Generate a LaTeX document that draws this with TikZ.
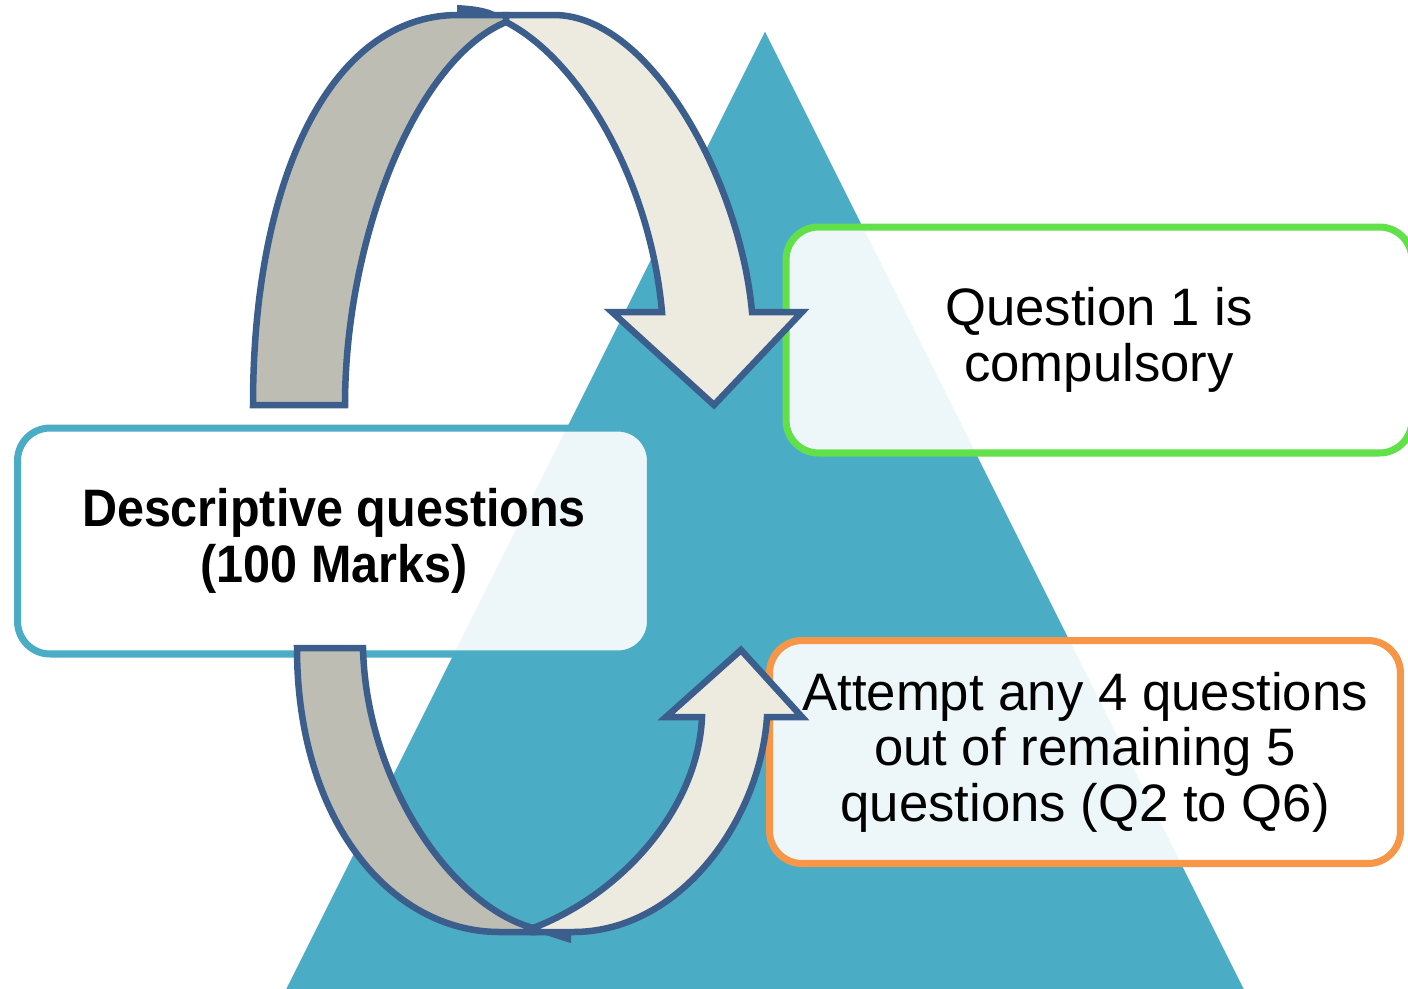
\documentclass[tikz,border=0pt]{standalone}
\usepackage{fontspec}
\setmainfont{Liberation Sans}
\newfontfamily\headfont{Liberation Sans}[FakeStretch=0.92]

\definecolor{pyramid}{RGB}{75,172,198}
\definecolor{ribbonline}{RGB}{59,94,140}
\definecolor{ribbonback}{RGB}{190,189,180}
\definecolor{ribbonfront}{RGB}{237,235,224}
\definecolor{greenline}{RGB}{98,224,74}
\definecolor{orangeline}{RGB}{247,150,70}

\begin{document}
\begin{tikzpicture}[x=0.02cm, y=-0.02cm,
    box/.style={draw, line width=4pt, rounded corners=0.65cm, fill=white,
                fill opacity=0.9, text opacity=1, align=center,
                font=\fontsize{30}{31.6}\selectfont},
    ribbon/.style={draw=ribbonline, line width=3.7pt, line join=miter}]
    \useasboundingbox (0,0) rectangle (1408,988);
    \clip (0,0) rectangle (1408,988);
    \fill[white] (0,0) rectangle (1408,988);
    \filldraw[fill=pyramid, draw=white, line width=1.7pt]
        (765,28) -- (259,1040) -- (1271,1040) -- cycle;

    \node[box, draw=pyramid, minimum width=12.66cm, minimum height=4.52cm,
          font=\fontsize{30}{31.6}\headfont\bfseries]
        (desc) at (334,541) {Descriptive questions\\(100 Marks)};
    \node[box, draw=greenline, minimum width=12.52cm, minimum height=4.52cm]
        (first) at (1099,340) {Question 1 is\\compulsory};
    \node[box, draw=orangeline, minimum width=12.62cm, minimum height=4.46cm]
        (rest) at (1085,752) {Attempt any 4 questions\\out of remaining 5\\questions (Q2 to Q6)};

    \filldraw[ribbon, fill=ribbonback] (253,405) .. controls (253,180) and (330,15) ..
        (458,15) -- (506,15) -- (506,22) .. controls (415,60) and (345,240) ..
        (345,405) -- cycle;
    \filldraw[ribbon, fill=ribbonfront] (506,22) -- (506,15) -- (554,15)
        .. controls (650,15) and (740,180) .. (752,312) -- (802,312) -- (714,405)
        -- (612,312) -- (662,312) .. controls (650,180) and (580,60) .. (506,22) -- cycle;
    \fill[ribbonline] (457,5) .. controls (480,6) and (495,10) .. (500,16) -- (457,16) -- cycle;

    \filldraw[ribbon, fill=ribbonback] (297,648) .. controls (297,820) and (390,932) ..
        (500,932) -- (533,932) -- (533,928) .. controls (450,905) and (366,780) ..
        (363,648) -- cycle;
    \filldraw[ribbon, fill=ribbonfront] (533,928) -- (533,932) -- (573,932)
        .. controls (680,932) and (760,820) .. (767,717) -- (802,717) -- (741,650)
        -- (666,717) -- (702,717) .. controls (698,810) and (620,895) .. (533,928) -- cycle;
    \fill[ribbonline] (524,929) .. controls (545,934) and (560,940) .. (571,943) -- (571,930) -- cycle;
\end{tikzpicture}
\end{document}
